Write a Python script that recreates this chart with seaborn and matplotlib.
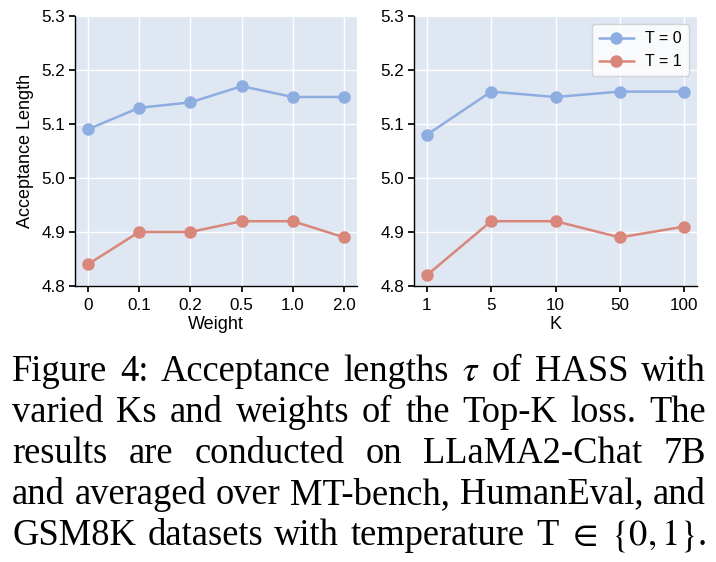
import re
import matplotlib
matplotlib.use("Agg")
import matplotlib.pyplot as plt
import seaborn as sns
import pandas as pd

weights = ["0", "0.1", "0.2", "0.5", "1.0", "2.0"]
w_t0 = [5.09, 5.13, 5.14, 5.17, 5.15, 5.15]
w_t1 = [4.84, 4.90, 4.90, 4.92, 4.92, 4.89]

ks = ["1", "5", "10", "50", "100"]
k_t0 = [5.08, 5.16, 5.15, 5.16, 5.16]
k_t1 = [4.82, 4.92, 4.92, 4.89, 4.91]

series = ["T = 0", "T = 1"]
yticks = [4.8, 4.9, 5.0, 5.1, 5.2, 5.3]

caption_lines = [
    r"Figure 4: Acceptance lengths $\tau$ of HASS with",
    "varied Ks and weights of the Top-K loss. The",
    "results are conducted on LLaMA2-Chat 7B",
    "and averaged over MT-bench, HumanEval, and",
    r"GSM8K datasets with temperature T$\ \in\ \{0,1\}$.",
]

sns.set_theme(style="darkgrid", rc={
    "axes.facecolor": "#dfe7f2",
    "axes.edgecolor": "black",
    "axes.linewidth": 1.0,
    "grid.color": "white",
    "grid.linewidth": 1.0,
    "xtick.bottom": True,
    "ytick.left": True,
    "xtick.major.size": 4,
    "ytick.major.size": 4,
    "xtick.color": "black",
    "ytick.color": "black",
    "text.color": "black",
    "axes.labelcolor": "black",
})
plt.rcParams["font.family"] = ["Liberation Sans", "DejaVu Sans"]
plt.rcParams["mathtext.fontset"] = "stix"

palette = {"T = 0": "#8eade1", "T = 1": "#d9877a"}

df_w = pd.DataFrame({
    "x": weights * 2,
    "y": w_t0 + w_t1,
    "T": [series[0]] * len(weights) + [series[1]] * len(weights),
})
df_k = pd.DataFrame({
    "x": ks * 2,
    "y": k_t0 + k_t1,
    "T": [series[0]] * len(ks) + [series[1]] * len(ks),
})

W, H = 716, 562
fig = plt.figure(figsize=(W / 100, H / 100), dpi=100)
ax1 = fig.add_axes([75 / W, 1 - 286 / H, 282 / W, 270 / H])
ax2 = fig.add_axes([414 / W, 1 - 286 / H, 283 / W, 270 / H])

fs = 12.3
lfs = 13
for ax, df, xl, leg in [(ax1, df_w, "Weight", False), (ax2, df_k, "K", True)]:
    sns.lineplot(data=df, x="x", y="y", hue="T", palette=palette, marker="o",
                 markersize=9, markeredgewidth=0, linewidth=1.8, ax=ax,
                 legend=leg, sort=False)
    ax.set_ylim(4.8, 5.3)
    ax.set_yticks(yticks)
    ax.set_yticklabels([f"{v:.1f}" for v in yticks])
    ax.tick_params(axis="x", labelsize=fs, pad=5)
    ax.tick_params(axis="y", labelsize=fs, pad=3)
    ax.set_xlabel(xl, fontsize=lfs, labelpad=2)
    ax.set_ylabel("")
    sns.despine(ax=ax)

ax1.set_ylabel("Acceptance Length", fontsize=lfs, labelpad=5)
lg = ax2.legend(loc="upper right", fontsize=11.5, frameon=True,
                facecolor="white", edgecolor="#cccccc", framealpha=0.8,
                handlelength=2.2, handletextpad=0.7, borderpad=0.45)

# caption, justified
fig.canvas.draw()
renderer = fig.canvas.get_renderer()
left, right = 12, 706
baselines = [381, 422, 463, 504, 545]
cap_fs = 26.3
for line, yb in zip(caption_lines, baselines):
    words = re.findall(r"(?:\$[^$]*\$|\S)+", line)
    texts = []
    widths = []
    for w in words:
        t = fig.text(0, 1 - yb / H, w, fontsize=cap_fs, family="Liberation Serif",
                     va="baseline", ha="left")
        bb = t.get_window_extent(renderer=renderer)
        texts.append(t)
        widths.append(bb.width)
    gap = (right - left - sum(widths)) / max(len(words) - 1, 1)
    x = left
    for t, wd in zip(texts, widths):
        t.set_x(x / W)
        x += wd + gap

fig.savefig("out.png", dpi=100)
